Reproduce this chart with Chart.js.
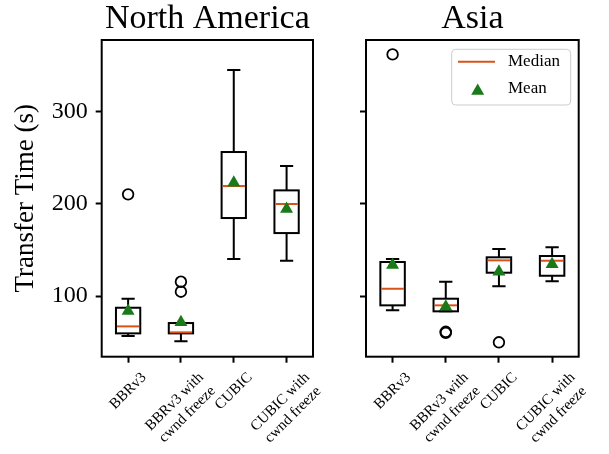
<!DOCTYPE html>
<html>
<head>
<meta charset="utf-8">
<script src="https://cdn.jsdelivr.net/npm/chart.js@4.4.0/dist/chart.umd.min.js"></script>
<style>
html, body { margin: 0; padding: 0; background: #fff; }
#wrap { position: relative; width: 609px; height: 454px; overflow: hidden; }
#na { position: absolute; left: 0; top: 0; }
#asia { position: absolute; left: 340px; top: 0; }
</style>
</head>
<body>
<div id="wrap">
  <canvas id="na" width="340" height="454"></canvas>
  <canvas id="asia" width="269" height="454"></canvas>
</div>
<script>
// categories (tick labels, multi-line)
const categories = [['BBRv3'], ['BBRv3 with', 'cwnd freeze'], ['CUBIC'], ['CUBIC with', 'cwnd freeze']];
const yTicks = [100, 200, 300];

// North America box stats (seconds)
const naWhiskLo = [56.6, 50.9, 140.1, 138.3];
const naQ1 = [59.5, 59.5, 184.6, 168.3];
const naMedian = [67.1, 60.6, 219.3, 199.8];
const naQ3 = [87.3, 70.7, 256.2, 214.6];
const naWhiskHi = [97.1, 70.7, 345.1, 241.0];
const naMean = [83.7, 71.5, 222.9, 194.4];
const naOutliers = [[210.3], [104.7, 115.5], [], []];

// Asia box stats (seconds)
const asWhiskLo = [84.5, 83.4, 110.5, 115.9];
const asQ1 = [89.9, 83.4, 125.3, 122.0];
const asMedian = [107.9, 89.9, 138.7, 138.3];
const asQ3 = [136.9, 97.1, 142.0, 143.4];
const asWhiskHi = [140.1, 115.5, 151.0, 152.8];
const asMean = [133.6, 88.4, 126.4, 134.4];
const asOutliers = [[362.1], [60.0, 61.2], [49.8], []];

const SERIF = "'Liberation Serif', 'DejaVu Serif', serif";
const MEDIAN_COL = '#d95319';
const MEAN_COL = '#1a7a1a';
const LW = 2;
const BOX_W = 0.46, CAP_W = 0.25;
const Y_MIN = 34.2, Y_MAX = 377.7;
const AREA_TOP = 40, AREA_BOTTOM = 356.7;

function drawTriangle(ctx, x, y, r) {
    // same shape as chart.js 'triangle' point style
    const w = r * Math.sin(Math.PI / 3);
    ctx.beginPath();
    ctx.moveTo(x, y - r);
    ctx.lineTo(x + w, y + r / 2);
    ctx.lineTo(x - w, y + r / 2);
    ctx.closePath();
    ctx.fill();
}

function boxPlugin(st) {
    return {
        id: 'boxPlot',
        beforeDatasetsDraw(chart) {
            const ctx = chart.ctx, xs = chart.scales.x, ys = chart.scales.y;
            const unit = xs.getPixelForValue(2) - xs.getPixelForValue(1);
            const hb = unit * BOX_W / 2, hc = unit * CAP_W / 2;
            ctx.save();
            ctx.lineWidth = LW;
            ctx.strokeStyle = '#000';
            st.med.forEach((m, i) => {
                const xc = xs.getPixelForValue(i + 1);
                const yLo = ys.getPixelForValue(st.lo[i]), yQ1 = ys.getPixelForValue(st.q1[i]);
                const yQ3 = ys.getPixelForValue(st.q3[i]), yHi = ys.getPixelForValue(st.hi[i]);
                ctx.beginPath();
                ctx.moveTo(xc, yQ1); ctx.lineTo(xc, yLo);
                ctx.moveTo(xc - hc, yLo); ctx.lineTo(xc + hc, yLo);
                ctx.moveTo(xc, yQ3); ctx.lineTo(xc, yHi);
                ctx.moveTo(xc - hc, yHi); ctx.lineTo(xc + hc, yHi);
                ctx.stroke();
                ctx.strokeRect(xc - hb, yQ3, hb * 2, yQ1 - yQ3);
                ctx.beginPath();
                ctx.strokeStyle = MEDIAN_COL;
                const ym = ys.getPixelForValue(m);
                ctx.moveTo(xc - hb + LW / 2, ym); ctx.lineTo(xc + hb - LW / 2, ym);
                ctx.stroke();
                ctx.strokeStyle = '#000';
            });
            ctx.restore();
        },
        afterDraw(chart) {
            const ctx = chart.ctx, ca = chart.chartArea, xs = chart.scales.x;
            ctx.save();
            ctx.lineWidth = LW;
            ctx.strokeStyle = '#000';
            ctx.strokeRect(ca.left, ca.top, ca.right - ca.left, ca.bottom - ca.top);
            // rotated, centred tick labels
            const fs = 15, lh = fs * 1.2;
            ctx.font = fs + 'px ' + SERIF;
            ctx.fillStyle = '#000';
            ctx.textAlign = 'center';
            ctx.textBaseline = 'middle';
            categories.forEach((lines, i) => {
                const px = xs.getPixelForValue(i + 1);
                const W = Math.max(...lines.map(l => ctx.measureText(l).width));
                const H = lines.length * lh;
                const cy = ca.bottom + 6 + 6 + (W + H) * Math.SQRT1_2 / 2;
                ctx.save();
                ctx.translate(px, cy);
                ctx.rotate(-Math.PI / 4);
                lines.forEach((l, j) => ctx.fillText(l, 0, -H / 2 + (j + 0.5) * lh));
                ctx.restore();
            });
            if (st.legend) {
                const bw = 119, bh = 55.7;
                const bx = ca.right - 8 - bw, by = ca.top + 9.3;
                ctx.beginPath();
                ctx.roundRect(bx, by, bw, bh, 4);
                ctx.fillStyle = 'rgba(255,255,255,0.8)';
                ctx.fill();
                ctx.lineWidth = 1;
                ctx.strokeStyle = '#cccccc';
                ctx.stroke();
                ctx.beginPath();
                ctx.lineWidth = LW;
                ctx.strokeStyle = MEDIAN_COL;
                ctx.moveTo(bx + 6.3, by + 12.4); ctx.lineTo(bx + 43.3, by + 12.4);
                ctx.stroke();
                ctx.fillStyle = MEAN_COL;
                drawTriangle(ctx, bx + 26, by + 41.6, 7.5);
                ctx.fillStyle = '#000';
                ctx.textAlign = 'left';
                ctx.font = '17px ' + SERIF;
                ctx.fillText('Median', bx + 56.3, by + 12.4);
                ctx.fillText('Mean', bx + 56.3, by + 39.7);
            }
            ctx.restore();
        }
    };
}

function buildChart(id, title, st, yAxisWidth, padRight, showYLabels) {
    const canvas = document.getElementById(id);
    return new Chart(canvas, {
        type: 'scatter',
        data: {
            datasets: [
                {
                    label: 'Mean',
                    data: st.mean.map((v, i) => ({ x: i + 1, y: v })),
                    pointStyle: 'triangle',
                    radius: 7.5,
                    backgroundColor: MEAN_COL,
                    borderColor: MEAN_COL,
                    borderWidth: 0
                },
                {
                    label: 'Outliers',
                    data: st.out.flatMap((arr, i) => arr.map(v => ({ x: i + 1, y: v }))),
                    pointStyle: 'circle',
                    radius: 5.3,
                    backgroundColor: 'rgba(0,0,0,0)',
                    borderColor: '#000',
                    borderWidth: 1.8
                }
            ]
        },
        options: {
            responsive: false,
            animation: false,
            devicePixelRatio: 1,
            events: [],
            layout: { padding: { left: 0, right: padRight, top: 0, bottom: 0 } },
            plugins: {
                legend: { display: false },
                tooltip: { enabled: false },
                title: {
                    display: true,
                    text: title,
                    fullSize: false,
                    color: '#000',
                    font: { family: SERIF, size: 34, weight: 'normal', lineHeight: 1.15 },
                    padding: { top: 0, bottom: AREA_TOP - 34 * 1.15 }
                }
            },
            scales: {
                x: {
                    type: 'linear',
                    min: 0.5,
                    max: 4.5,
                    afterBuildTicks: s => { s.ticks = [1, 2, 3, 4].map(v => ({ value: v })); },
                    afterFit: s => { s.height = canvas.height - AREA_BOTTOM; },
                    ticks: { display: false },
                    grid: { drawOnChartArea: false, drawTicks: true, tickLength: 6, tickWidth: LW, tickColor: '#000' },
                    border: { display: false }
                },
                y: {
                    type: 'linear',
                    min: Y_MIN,
                    max: Y_MAX,
                    afterBuildTicks: s => { s.ticks = yTicks.map(v => ({ value: v })); },
                    afterFit: s => { s.width = yAxisWidth; },
                    ticks: { display: showYLabels, color: '#000', padding: 8, font: { family: SERIF, size: 24 } },
                    grid: { drawOnChartArea: false, drawTicks: true, tickLength: 6, tickWidth: LW, tickColor: '#000' },
                    border: { display: false },
                    title: {
                        display: showYLabels,
                        text: 'Transfer Time (s)',
                        color: '#000',
                        font: { family: SERIF, size: 27, lineHeight: 1.2 },
                        padding: { top: 10, bottom: 0 }
                    }
                }
            }
        },
        plugins: [boxPlugin(st)]
    });
}

buildChart('na', 'North America', {
    lo: naWhiskLo, q1: naQ1, med: naMedian, q3: naQ3, hi: naWhiskHi, mean: naMean, out: naOutliers, legend: false
}, 101.7, 340 - 313, true);

buildChart('asia', 'Asia', {
    lo: asWhiskLo, q1: asQ1, med: asMedian, q3: asQ3, hi: asWhiskHi, mean: asMean, out: asOutliers, legend: true
}, 366 - 340, 269 - 238.7, false);
</script>
</body>
</html>
